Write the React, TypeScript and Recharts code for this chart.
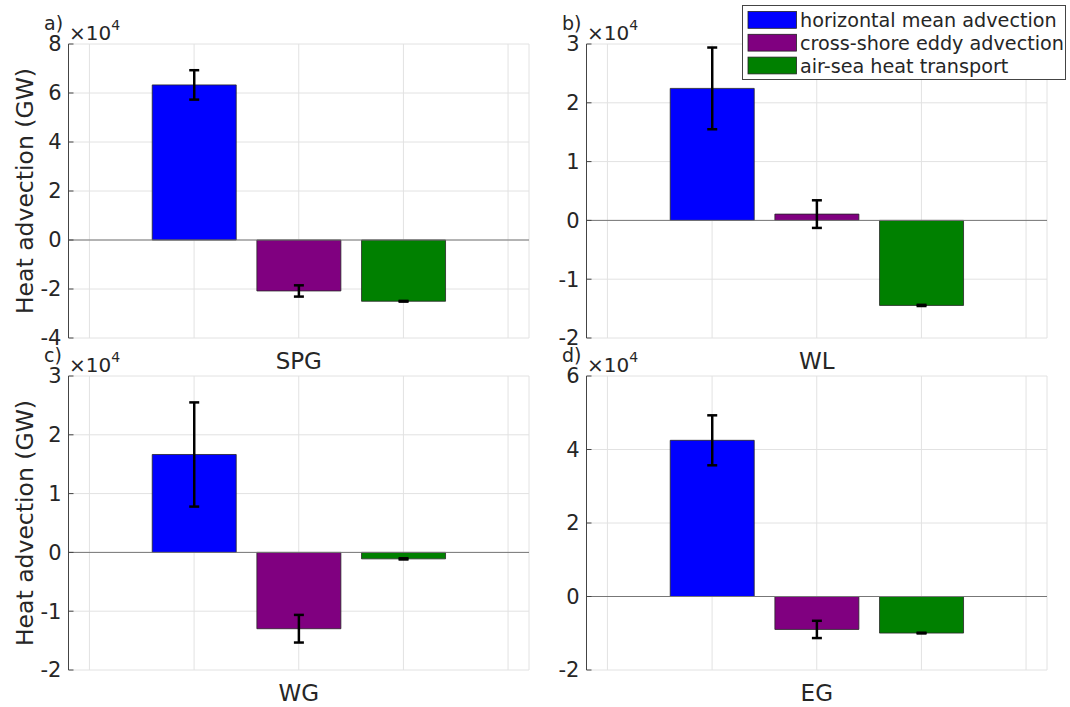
import { BarChart, Bar, XAxis, YAxis, CartesianGrid, Cell, ErrorBar, ReferenceLine } from 'recharts';

// series (one bar per component in each region)
const components = ['horizontal mean advection', 'cross-shore eddy advection', 'air-sea heat transport'];
const componentColors = ['#0000ff', '#800080', '#008000'];
const barPositions = [1, 2, 3];
const xTicks = [0, 1, 2, 3, 4];

const regions = ['SPG', 'WL', 'WG', 'EG'];
const panelLetters = ['a)', 'b)', 'c)', 'd)'];

// heat advection in GW
const spgValues = [63300, -20800, -25000];
const spgErrors = [6000, 2300, 150];
const wlValues = [22450, 1070, -14460];
const wlErrors = [6950, 2350, 100];
const wgValues = [16650, -12980, -1100];
const wgErrors = [8860, 2350, 100];
const egValues = [42500, -8960, -9950];
const egErrors = [6800, 2350, 100];

const spgTicks = [-40000, -20000, 0, 20000, 40000, 60000, 80000];
const wlTicks = [-20000, -10000, 0, 10000, 20000, 30000];
const wgTicks = [-20000, -10000, 0, 10000, 20000, 30000];
const egTicks = [-20000, 0, 20000, 40000, 60000];

const TEXT = '#262626';
const W = 540;
const H = 353;
const MARGIN = { top: 44, right: 11, bottom: 15, left: 8.5 };

const panels = [
  { region: regions[0], letter: panelLetters[0], values: spgValues, errors: spgErrors, ticks: spgTicks, left: 0, top: 0, ylabel: true },
  { region: regions[1], letter: panelLetters[1], values: wlValues, errors: wlErrors, ticks: wlTicks, left: 518, top: 0, ylabel: false },
  { region: regions[2], letter: panelLetters[2], values: wgValues, errors: wgErrors, ticks: wgTicks, left: 0, top: 332, ylabel: true },
  { region: regions[3], letter: panelLetters[3], values: egValues, errors: egErrors, ticks: egTicks, left: 518, top: 332, ylabel: false },
];

function Panel({ values, errors, ticks }: { values: number[]; errors: number[]; ticks: number[] }) {
  const rows = barPositions.map((x, i) => ({ x, value: values[i], err: errors[i], name: components[i] }));
  return (
    <BarChart width={W} height={H} data={rows} margin={MARGIN} barCategoryGap="10%">
      <CartesianGrid stroke="#e2e2e2" strokeWidth={1} />
      <XAxis
        type="number"
        dataKey="x"
        domain={[-0.2, 4.2]}
        ticks={xTicks}
        allowDataOverflow
        height={0}
        tickSize={-5}
        tickFormatter={() => ''}
        axisLine={{ stroke: '#444' }}
        tickLine={{ stroke: '#444' }}
      />
      <YAxis
        type="number"
        domain={[ticks[0], ticks[ticks.length - 1]]}
        ticks={ticks}
        allowDataOverflow
        width={60}
        tickSize={-5}
        tickMargin={12}
        tickFormatter={(v: number) => String(v / 10000)}
        tick={{ fill: TEXT, fontSize: 21 }}
        axisLine={{ stroke: '#444' }}
        tickLine={{ stroke: '#444' }}
      />
      <ReferenceLine y={0} stroke="#777" strokeWidth={1} />
      <Bar dataKey="value" isAnimationActive={false} stroke="#262626" strokeWidth={0.8}>
        {rows.map((r, i) => (
          <Cell key={r.name} fill={componentColors[i]} />
        ))}
        <ErrorBar dataKey="err" width={5} strokeWidth={2.5} stroke="#000" direction="y" isAnimationActive={false} />
      </Bar>
    </BarChart>
  );
}

export default function App() {
  return (
    <div style={{ position: 'absolute', left: 0, top: 0, width: 1070, height: 707, background: '#fff', fontFamily: '"DejaVu Sans", sans-serif' }}>
      {panels.map((p) => (
        <div key={p.region} style={{ position: 'absolute', left: p.left, top: p.top }}>
          <Panel values={p.values} errors={p.errors} ticks={p.ticks} />
        </div>
      ))}
      <svg width={1070} height={707} style={{ position: 'absolute', left: 0, top: 0, pointerEvents: 'none' }}>
        {panels.map((p) => (
          <g key={p.region} transform={`translate(${p.left},${p.top})`} fill={TEXT}>
            <text x={44} y={30} fontSize={19}>{p.letter}</text>
            <text x={69} y={39.5} fontSize={20}>
              ×10<tspan dy={-10} fontSize={14}>4</tspan>
            </text>
            <text x={298.8} y={369} fontSize={23} textAnchor="middle">{p.region}</text>
            {p.ylabel && (
              <text x={33} y={191} fontSize={23.5} textAnchor="middle" transform="rotate(-90 33 191)">
                Heat advection (GW)
              </text>
            )}
          </g>
        ))}
        <g>
          <rect x={742.5} y={5.5} width={323} height={74} fill="#fff" stroke="#444" strokeWidth={1} />
          {components.map((c, i) => (
            <g key={c}>
              <rect x={748} y={11.5 + i * 22.8} width={48.5} height={16.8} fill={componentColors[i]} stroke="#222" strokeWidth={0.8} />
              <text x={800} y={27 + i * 23} fontSize={19.2} fill={TEXT}>{c}</text>
            </g>
          ))}
        </g>
      </svg>
    </div>
  );
}
